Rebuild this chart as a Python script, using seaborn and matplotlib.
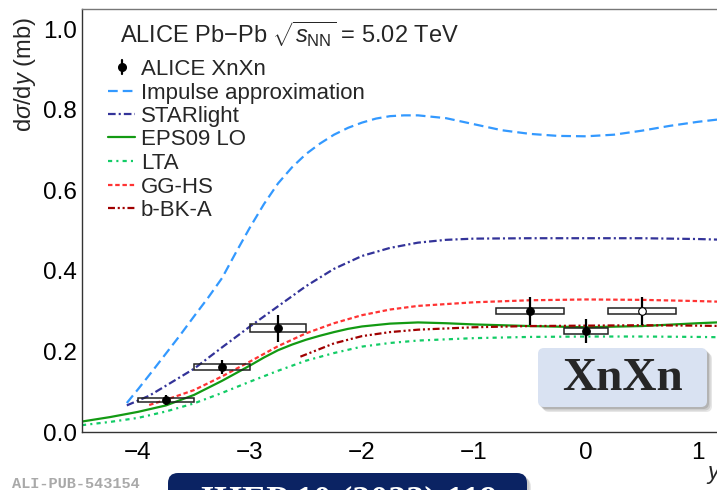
import matplotlib
matplotlib.use("Agg")
import matplotlib.pyplot as plt
from matplotlib.patches import Rectangle, FancyBboxPatch
from matplotlib.lines import Line2D
from matplotlib.ticker import MultipleLocator, FormatStrFormatter
import seaborn as sns

# ---- ALICE XnXn measurement -------------------------------------------
meas_rap = [-3.75, -3.25, -2.75, -0.5, 0.0, 0.5]
meas_xsec = [0.080, 0.162, 0.257, 0.300, 0.251, 0.300]
meas_stat = [0.012, 0.017, 0.034, 0.034, 0.029, 0.034]
meas_syst = [0.005, 0.008, 0.010, 0.008, 0.007, 0.008]
meas_halfwidth = [0.25, 0.25, 0.25, 0.30, 0.20, 0.30]
meas_reflected = [False, False, False, False, False, True]

# ---- model predictions ---------------------------------------------------
ia_rap = [-4.1, -4.0, -3.875, -3.75, -3.625, -3.5, -3.375, -3.25, -3.125, -3.0,
          -2.875, -2.75, -2.625, -2.5, -2.375, -2.25, -2.125, -2.0, -1.875, -1.75,
          -1.625, -1.5, -1.25, -1.0, -0.75, -0.5, -0.25, 0.0, 0.25, 0.5, 0.75,
          1.0, 1.25]
ia_xsec = [0.072, 0.106, 0.150, 0.195, 0.240, 0.287, 0.333, 0.382, 0.446, 0.508,
           0.566, 0.617, 0.657, 0.690, 0.716, 0.738, 0.755, 0.768, 0.778, 0.784,
           0.786, 0.786, 0.779, 0.764, 0.749, 0.740, 0.735, 0.734, 0.738, 0.748,
           0.760, 0.770, 0.778]

sl_rap = [-4.1, -3.9, -3.75, -3.5, -3.25, -3.0, -2.75, -2.5, -2.25, -2.0,
          -1.75, -1.5, -1.25, -1.0, -0.5, 0.0, 0.5, 1.0, 1.25]
sl_xsec = [0.066, 0.09, 0.115, 0.157, 0.21, 0.262, 0.312, 0.362, 0.405, 0.437,
           0.457, 0.470, 0.477, 0.480, 0.481, 0.481, 0.481, 0.479, 0.477]

eps_rap = [-4.5, -4.25, -4.0, -3.75, -3.5, -3.25, -3.0, -2.875, -2.75, -2.625,
           -2.5, -2.375, -2.25, -2.125, -2.0, -1.75, -1.5, -1.25, -1.0, -0.5,
           0.0, 0.5, 1.0, 1.25]
eps_xsec = [0.026, 0.037, 0.050, 0.066, 0.092, 0.127, 0.165, 0.185, 0.203, 0.217,
            0.229, 0.239, 0.248, 0.256, 0.262, 0.269, 0.272, 0.270, 0.267, 0.263,
            0.260, 0.263, 0.270, 0.273]

lta_rap = [-4.5, -4.25, -4.0, -3.75, -3.5, -3.25, -3.0, -2.75, -2.5, -2.25,
           -2.0, -1.75, -1.5, -1.0, -0.5, 0.0, 0.5, 1.0, 1.25]
lta_xsec = [0.017, 0.025, 0.035, 0.051, 0.071, 0.097, 0.125, 0.152, 0.177, 0.196,
            0.212, 0.221, 0.227, 0.233, 0.236, 0.237, 0.237, 0.236, 0.235]

gghs_rap = [-3.9, -3.75, -3.5, -3.25, -3.0, -2.75, -2.5, -2.25, -2.0, -1.75,
            -1.5, -1.0, -0.5, 0.0, 0.5, 1.0, 1.25]
gghs_xsec = [0.067, 0.080, 0.104, 0.138, 0.175, 0.213, 0.245, 0.270, 0.290, 0.304,
             0.313, 0.322, 0.327, 0.329, 0.328, 0.325, 0.323]

bbk_rap = [-2.55, -2.25, -2.0, -1.75, -1.5, -1.0, -0.5, 0.0, 0.5, 1.0, 1.25]
bbk_xsec = [0.187, 0.220, 0.238, 0.248, 0.254, 0.260, 0.263, 0.264, 0.265, 0.264, 0.263]

model_names = ["Impulse approximation", "STARlight", "EPS09 LO", "LTA", "GG-HS", "b-BK-A"]
model_rap = [ia_rap, sl_rap, eps_rap, lta_rap, gghs_rap, bbk_rap]
model_xsec = [ia_xsec, sl_xsec, eps_xsec, lta_xsec, gghs_xsec, bbk_xsec]
model_colors = ["#3399ff", "#333399", "#139a13", "#12cc66", "#ff3333", "#a00000"]
model_styles = [(0, (7.0, 3.6)),
                (0, (5.5, 2.2, 1.5, 2.2)),
                "-",
                (0, (3.0, 3.0, 1.5, 3.0)),
                (0, (3.2, 2.0)),
                (0, (5.0, 2.0, 1.5, 2.0, 1.5, 2.0))]

# ---- style ----------------------------------------------------------------
sns.set_style("white")
plt.rcParams["font.family"] = ["Liberation Sans", "DejaVu Sans"]
plt.rcParams["mathtext.fontset"] = "custom"
plt.rcParams["mathtext.rm"] = "Liberation Sans"
plt.rcParams["mathtext.it"] = "Liberation Sans:italic"
plt.rcParams["mathtext.bf"] = "Liberation Sans:bold"
plt.rcParams["lines.scale_dashes"] = False

W, H = 717, 490
fig = plt.figure(figsize=(W / 100, H / 100), dpi=100)


def fx(px):
    return px / W


def fy(py):
    return 1 - py / H


ax = fig.add_axes([fx(82), 58 / H, 638.4 / W, 423 / H])
ax.set_xlim(-4.5, 1.2)
ax.set_ylim(0, 1.05)

LW = 1.6
for name, xs, ys, c, ls in zip(model_names, model_rap, model_xsec, model_colors, model_styles):
    sns.lineplot(x=xs, y=ys, ax=ax, color=c, linestyle=ls, lw=LW,
                 sort=False, estimator=None, zorder=2)

# systematic boxes
for x, y, hw, s in zip(meas_rap, meas_xsec, meas_halfwidth, meas_syst):
    ax.add_patch(Rectangle((x - hw, y - s), 2 * hw, 2 * s, fill=False,
                           ec="#222222", lw=1.1, zorder=3))

# statistical errors and markers
ax.errorbar(meas_rap, meas_xsec, yerr=meas_stat, fmt="none", ecolor="black",
            elinewidth=1.6, capsize=0, zorder=4)
filled_x = [x for x, r in zip(meas_rap, meas_reflected) if not r]
filled_y = [y for y, r in zip(meas_xsec, meas_reflected) if not r]
open_x = [x for x, r in zip(meas_rap, meas_reflected) if r]
open_y = [y for y, r in zip(meas_xsec, meas_reflected) if r]
sns.scatterplot(x=filled_x, y=filled_y, ax=ax, color="black", edgecolor="black",
                s=30, linewidth=0.8, zorder=5)
sns.scatterplot(x=open_x, y=open_y, ax=ax, color="white", edgecolor="black",
                s=30, linewidth=0.8, zorder=5)

# axes frame and ticks
ax.spines["right"].set_visible(False)
ax.spines["top"].set_color("#777777")
ax.spines["top"].set_linewidth(1.0)
for side in ["left", "bottom"]:
    ax.spines[side].set_color("#333333")
    ax.spines[side].set_linewidth(1.0)
ax.xaxis.set_major_locator(MultipleLocator(1))
ax.xaxis.set_minor_locator(MultipleLocator(0.2))
ax.yaxis.set_major_locator(MultipleLocator(0.2))
ax.yaxis.set_minor_locator(MultipleLocator(0.05))
ax.tick_params(axis="both", which="both", direction="in", colors="#333333",
               labelcolor="black", width=0.8, top=False, right=False)
ax.tick_params(axis="y", which="major", length=13.3, pad=3.5, labelsize=17.5)
ax.tick_params(axis="y", which="minor", length=7.2)
ax.tick_params(axis="x", which="major", length=9.6, pad=7, labelsize=17.5)
ax.tick_params(axis="x", which="minor", length=5.0)
ax.yaxis.set_major_formatter(FormatStrFormatter("%.1f"))
ax.set_xlabel("")
ax.set_ylabel("")

# axis titles
fig.text(fx(25), fy(17), r"d$\sigma$/d$\mathit{y}$ (mb)", rotation=90,
         ha="center", va="top", fontsize=17)
fig.text(fx(707), fy(479), "y", style="italic", ha="left", va="baseline",
         fontsize=17)

# header and legend
fig.text(fx(120), fy(43.5), r"ALICE Pb$-$Pb $\sqrt{s_{\mathrm{NN}}}$ = 5.02 TeV",
         ha="left", va="baseline", fontsize=17)

row_y = [67, 90.7, 114, 137.3, 160.7, 185, 208.3]
labels = ["ALICE XnXn"] + model_names
for i, (yy, lab) in enumerate(zip(row_y, labels)):
    fig.text(fx(141), fy(yy + 8), lab, ha="left", va="baseline", fontsize=16)
    if i == 0:
        fig.add_artist(Line2D([fx(122), fx(122)], [fy(yy - 7), fy(yy + 7)],
                              color="black", lw=1.6, transform=fig.transFigure))
        fig.add_artist(Line2D([fx(122)], [fy(yy)], marker="o", ms=5.5,
                              color="black", transform=fig.transFigure))
    else:
        fig.add_artist(Line2D([fx(108), fx(135)], [fy(yy), fy(yy)],
                              color=model_colors[i - 1], linestyle=model_styles[i - 1],
                              lw=LW, transform=fig.transFigure))

# XnXn label box with soft shadow
inch = fig.dpi_scale_trans
for k, a in enumerate([0.18, 0.22, 0.3]):
    off = (5 - k * 1.5) / 100
    fig.add_artist(FancyBboxPatch((5.38 + off, 0.83 - off), 1.69, 0.59,
                                  boxstyle="round,pad=0,rounding_size=0.06",
                                  fc="#777777", ec="none", alpha=a, transform=inch))
fig.add_artist(FancyBboxPatch((5.38, 0.83), 1.69, 0.59,
                              boxstyle="round,pad=0,rounding_size=0.06",
                              fc="#d9e2f2", ec="none", transform=inch))
fig.text(6.225, 1.11, "XnXn", transform=inch, ha="center", va="center",
         fontsize=34, fontweight="bold", family="Liberation Serif")

# publication tag and journal reference
fig.text(fx(12.5), fy(484), "ALI-PUB-543154", ha="left", va="center",
         fontsize=11, fontweight="bold", family="Liberation Mono", color="#a9a9a9")
for k, a in enumerate([0.18, 0.25]):
    off = (4 - k * 1.5) / 100
    fig.add_artist(FancyBboxPatch((1.68 + off, -0.6 - off), 3.59, 0.77,
                                  boxstyle="round,pad=0,rounding_size=0.1",
                                  fc="#777777", ec="none", alpha=a, transform=inch))
fig.add_artist(FancyBboxPatch((1.68, -0.6), 3.59, 0.77,
                              boxstyle="round,pad=0,rounding_size=0.1",
                              fc="#0b2363", ec="none", transform=inch))
fig.text(3.47, -0.207, "JHEP 10 (2023) 119", transform=inch, ha="center",
         va="baseline", fontsize=26, fontweight="bold", family="Liberation Serif",
         color="white")

fig.savefig("out.png", dpi=100)
